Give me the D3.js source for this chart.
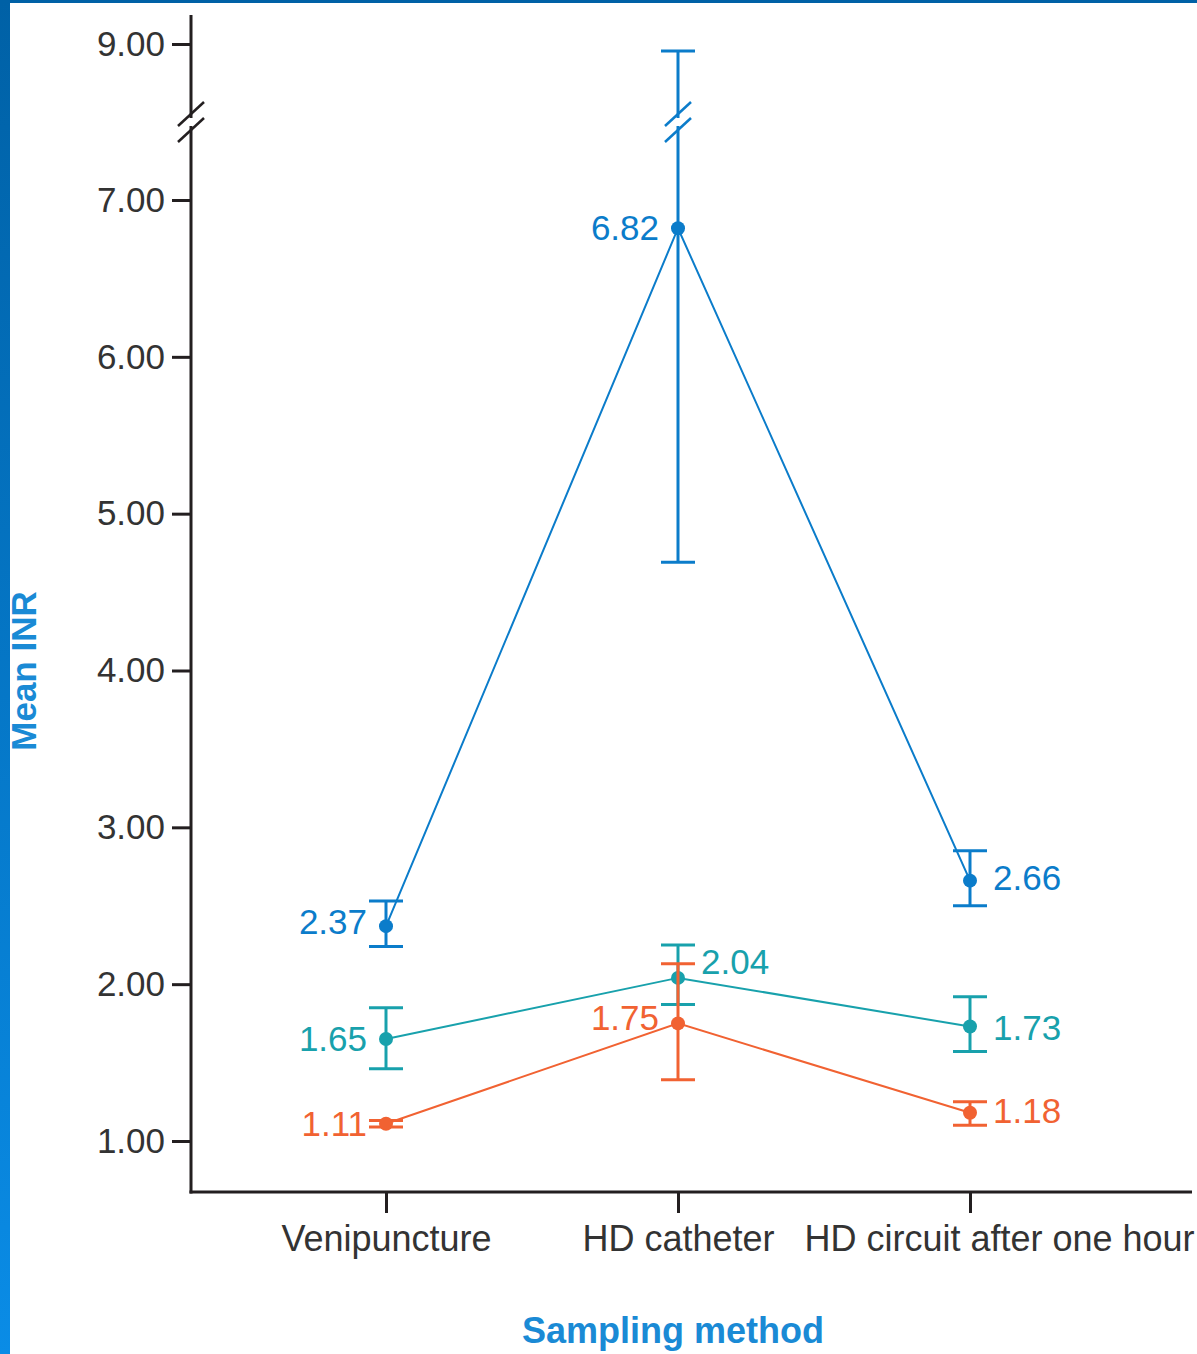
<!DOCTYPE html>
<html lang="en">
<head>
<meta charset="UTF-8">
<title>Mean INR by sampling method</title>
<script src="https://d3js.org/d3.v7.min.js"></script>
<style>
  body { margin: 0; background: #fff; }
  svg { display: block; font-family: "Liberation Sans", Arial, sans-serif; }
  .tick text { fill: #333; }
</style>
</head>
<body>
<svg width="1197" height="1354"></svg>
<script>
  // categories and values
  var categories = ["Venipuncture", "HD catheter", "HD circuit after one hour"];
  var seriesNames = ["blue", "teal", "orange"];
  var blueMean = [2.37, 6.82, 2.66];
  var blueLow = [2.24, 4.69, 2.50];
  var blueHigh = [2.53, 8.91, 2.85];
  var tealMean = [1.65, 2.04, 1.73];
  var tealLow = [1.46, 1.87, 1.57];
  var tealHigh = [1.85, 2.25, 1.92];
  var orangeMean = [1.11, 1.75, 1.18];
  var orangeLow = [1.09, 1.39, 1.10];
  var orangeHigh = [1.13, 2.13, 1.25];
  var yTicks = [1, 2, 3, 4, 5, 6, 7, 9];
  var breakValue = 8.0;

  var colors = { blue: "#0b7cca", teal: "#18a1ac", orange: "#f16232" };

  // label placement (side, vertical shift) per series / category
  var labelSpec = {
    blue:   [["left", -4], ["left", 0], ["right", -3]],
    teal:   [["left", 0], ["right", -16], ["right", 1]],
    orange: [["left", 0], ["left", -6], ["right", -2]]
  };

  var series = [
    { name: "blue", mean: blueMean, low: blueLow, high: blueHigh },
    { name: "teal", mean: tealMean, low: tealLow, high: tealHigh },
    { name: "orange", mean: orangeMean, low: orangeLow, high: orangeHigh }
  ];

  var svg = d3.select("svg"),
      width = +svg.attr("width"),
      height = +svg.attr("height");

  // frame: gradient strip on the left, thin bar on top
  var defs = svg.append("defs");
  var grad = defs.append("linearGradient").attr("id", "side")
      .attr("x1", 0).attr("y1", 0).attr("x2", 0).attr("y2", 1);
  grad.append("stop").attr("offset", "0%").attr("stop-color", "#0061a6");
  grad.append("stop").attr("offset", "100%").attr("stop-color", "#0a8ce6");
  svg.append("rect").attr("x", 0).attr("y", 0).attr("width", 10).attr("height", height).attr("fill", "url(#side)");
  svg.append("rect").attr("x", 0).attr("y", 0).attr("width", width).attr("height", 3).attr("fill", "#0061a6");

  var axisX = 191, axisBottom = 1192, axisTop = 15, axisRight = 1192;

  // broken y scale: 1..7 linear, 7..9 compressed
  var y = d3.scaleLinear().domain([1, 7, 9]).range([1141, 200, 44]);
  var x = d3.scalePoint().domain(categories).range([386, 970]);

  // y axis
  var yAxis = svg.append("g")
      .attr("transform", "translate(" + axisX + ",0)")
      .call(d3.axisLeft(y).tickValues(yTicks).tickFormat(d3.format(".2f")).tickSize(19).tickPadding(7));
  yAxis.select(".domain").remove();
  yAxis.selectAll(".tick line").attr("stroke", "#231f20").attr("stroke-width", 3);
  yAxis.selectAll(".tick text").attr("font-size", 35).attr("fill", "#333");

  svg.append("line")
      .attr("x1", axisX).attr("x2", axisX).attr("y1", axisTop).attr("y2", axisBottom + 1.5)
      .attr("stroke", "#231f20").attr("stroke-width", 3);

  // x axis
  var xAxis = svg.append("g")
      .attr("transform", "translate(0," + axisBottom + ")")
      .call(d3.axisBottom(x).tickSize(21).tickPadding(12));
  xAxis.select(".domain").remove();
  xAxis.selectAll(".tick line").attr("stroke", "#231f20").attr("stroke-width", 3);
  xAxis.selectAll(".tick text").attr("font-size", 36).attr("fill", "#333")
      .attr("dx", function(d, i) { return i === categories.length - 1 ? 29 : 0; });

  svg.append("line")
      .attr("x1", axisX - 1.5).attr("x2", axisRight).attr("y1", axisBottom).attr("y2", axisBottom)
      .attr("stroke", "#231f20").attr("stroke-width", 3);

  // break marks
  function breakMarks(cx, color) {
    var yb = y(breakValue);
    var g = svg.append("g");
    g.append("rect").attr("x", cx - 4).attr("y", yb - 4).attr("width", 8).attr("height", 8).attr("fill", "#fff");
    [-8, 8].forEach(function(off) {
      g.append("line")
        .attr("x1", cx - 13).attr("y1", yb + off + 12)
        .attr("x2", cx + 13).attr("y2", yb + off - 12)
        .attr("stroke", color).attr("stroke-width", 2.5);
    });
  }
  breakMarks(axisX, "#231f20");

  // lines
  var line = d3.line()
      .x(function(d, i) { return x(categories[i]); })
      .y(function(d) { return y(d); });

  series.forEach(function(s) {
    var c = colors[s.name];
    svg.append("path")
      .datum(s.mean)
      .attr("d", line)
      .attr("fill", "none")
      .attr("stroke", c)
      .attr("stroke-width", 2);
  });

  // error bars, dots, labels
  series.forEach(function(s) {
    var c = colors[s.name];
    var g = svg.append("g");
    categories.forEach(function(cat, i) {
      var cx = x(cat);
      g.append("line")
        .attr("x1", cx).attr("x2", cx)
        .attr("y1", y(s.low[i])).attr("y2", y(s.high[i]))
        .attr("stroke", c).attr("stroke-width", 3);
      [s.low[i], s.high[i]].forEach(function(v) {
        g.append("line")
          .attr("x1", cx - 17).attr("x2", cx + 17)
          .attr("y1", y(v)).attr("y2", y(v))
          .attr("stroke", c).attr("stroke-width", 3);
      });
      if (s.high[i] > breakValue && s.low[i] < breakValue) breakMarks(cx, c);
      g.append("circle")
        .attr("cx", cx).attr("cy", y(s.mean[i])).attr("r", 7)
        .attr("fill", c);
      var spec = labelSpec[s.name][i];
      var left = spec[0] === "left";
      g.append("text")
        .attr("x", left ? cx - 19 : cx + 23)
        .attr("y", y(s.mean[i]) + spec[1])
        .attr("dy", "0.35em")
        .attr("text-anchor", left ? "end" : "start")
        .attr("font-size", 35)
        .attr("fill", c)
        .text(d3.format(".2f")(s.mean[i]));
    });
  });

  // axis titles
  svg.append("text")
      .attr("transform", "translate(36,671) rotate(-90)")
      .attr("text-anchor", "middle")
      .attr("font-size", 35)
      .attr("font-weight", "bold")
      .attr("fill", "#1a8ad5")
      .text("Mean INR");

  svg.append("text")
      .attr("x", 673).attr("y", 1343)
      .attr("text-anchor", "middle")
      .attr("font-size", 36)
      .attr("font-weight", "bold")
      .attr("fill", "#1a8ad5")
      .text("Sampling method");
</script>
</body>
</html>
